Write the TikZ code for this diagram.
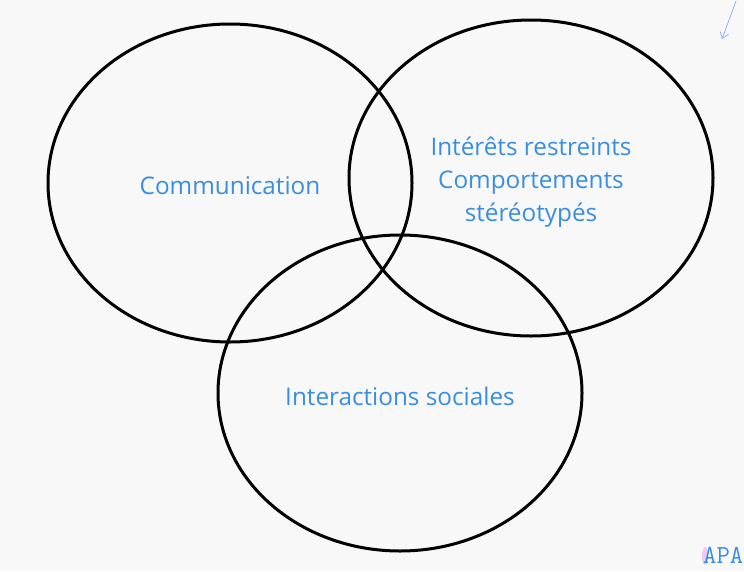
\documentclass[tikz,border=0pt]{standalone}
\usepackage{fontspec}
\setmainfont{Open Sans}
\usetikzlibrary{arrows.meta}
\definecolor{bg}{HTML}{F8F8F8}
\definecolor{txt}{HTML}{3A8EE0}
\definecolor{arr}{HTML}{8AA8FF}
\definecolor{pinkish}{HTML}{F4C6F4}
\tikzset{
  circ/.style={draw=black, line width=3pt},
  lbl/.style={text=txt, font=\fontsize{24.3}{33}\selectfont, align=center, inner sep=0pt}
}
\begin{document}
\begin{tikzpicture}[x=1pt,y=-1pt]
\fill[bg] (0,0) rectangle (744,571);
\useasboundingbox (0,0) rectangle (744,571);
\draw[circ] (230,183) ellipse [x radius=182, y radius=159];
\draw[circ] (531,178) ellipse [x radius=182, y radius=158];
\draw[circ] (400,393) ellipse [x radius=182, y radius=158];
\node[lbl] (comm) at (230,186) {Communication};
\node[lbl] (int) at (531,182) {Intérêts restreints\\Comportements\\stéréotypés};
\node[lbl] (soc) at (400,396) {Interactions sociales};
\coordinate (a1) at (736,1);
\coordinate (a2) at (722,39);
\draw[arr, line width=0.7pt, -{Straight Barb[length=6pt,width=9pt]}] (a1) -- (a2);
\fill[pinkish] (705,556) ellipse [x radius=3, y radius=9];
\node[text=txt, font=\ttfamily\fontsize{26}{26}\selectfont, anchor=base west, inner sep=0pt] (apa) at (703,563) {APA};
\end{tikzpicture}
\end{document}
